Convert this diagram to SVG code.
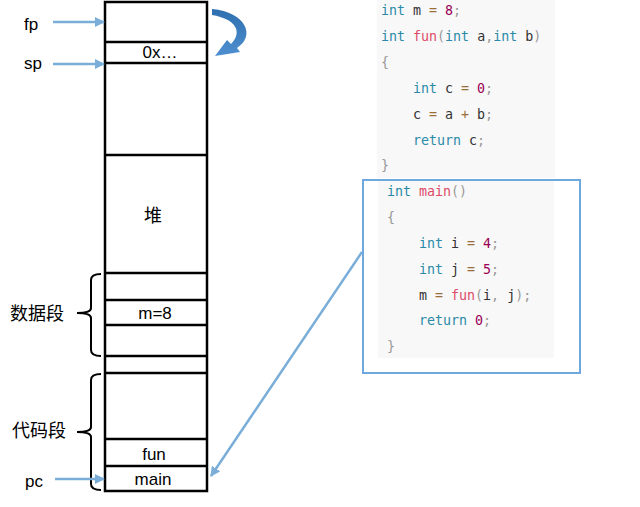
<svg xmlns="http://www.w3.org/2000/svg" width="640" height="507" viewBox="0 0 640 507">
<defs>
<style>
.frame{fill:none;stroke:#000;stroke-width:2.5}
.sep{stroke:#000;stroke-width:2.5}
.brace{fill:none;stroke:#000;stroke-width:2}
.ptr{stroke:#7aaed8;stroke-width:2.5;fill:none}
.lbl{font-family:"Liberation Sans",Arial,sans-serif;font-size:17px;fill:#000}
.cjk{font-family:"Liberation Sans","Noto Sans CJK SC",sans-serif;font-size:18px;fill:#000}
.code{font-family:"DejaVu Sans Mono","Liberation Mono",monospace;font-size:13.3px;fill:#333}
.kw{fill:#2a8aa8}.fn{fill:#dd4a68}.num{fill:#990055}.pn{fill:#999}.op{fill:#9a6e3a}
</style>
<marker id="ah" viewBox="0 0 10 10" refX="9" refY="5" markerWidth="4" markerHeight="4" orient="auto">
<path d="M0,0 L10,5 L0,10 Z" fill="#7aaed8"/>
</marker>
<linearGradient id="cg" x1="0" y1="0" x2="0" y2="1">
<stop offset="0" stop-color="#2e6fb0"/>
<stop offset="1" stop-color="#4f8fd0"/>
</linearGradient>
</defs>

<g id="code-bg">
<rect x="377" y="0" width="178" height="178" fill="#f8f8f8"/>
<rect x="378" y="181" width="176" height="177" fill="#f8f8f8"/>
</g>

<g id="stack">
<rect class="frame" x="105" y="2" width="102" height="489"/>
<line class="sep" x1="105" y1="42" x2="207" y2="42"/>
<line class="sep" x1="105" y1="63" x2="207" y2="63"/>
<line class="sep" x1="105" y1="155" x2="207" y2="155"/>
<line class="sep" x1="105" y1="273" x2="207" y2="273"/>
<line class="sep" x1="105" y1="300" x2="207" y2="300"/>
<line class="sep" x1="105" y1="325" x2="207" y2="325"/>
<line class="sep" x1="105" y1="356" x2="207" y2="356"/>
<line class="sep" x1="105" y1="373" x2="207" y2="373"/>
<line class="sep" x1="105" y1="439" x2="207" y2="439"/>
<line class="sep" x1="105" y1="466" x2="207" y2="466"/>
<text class="lbl" x="160" y="58" text-anchor="middle">0x…</text>
<text class="cjk" x="153" y="222" text-anchor="middle">堆</text>
<text class="lbl" x="155" y="319" text-anchor="middle">m=8</text>
<text class="lbl" x="154" y="460" text-anchor="middle">fun</text>
<text class="lbl" x="153" y="485" text-anchor="middle">main</text>
</g>

<g id="labels">
<text class="lbl" x="24" y="30">fp</text>
<text class="lbl" x="24" y="69">sp</text>
<text class="lbl" x="25" y="487">pc</text>
<text class="cjk" x="10" y="320">数据段</text>
<text class="cjk" x="12" y="437">代码段</text>
</g>

<g id="braces">
<path class="brace" d="M101,274 Q91,274 91,280 L91,308 Q91,313 77,313 Q91,313 91,318 L91,350 Q91,356 101,356"/>
<path class="brace" d="M101,374 Q91,374 91,380 L91,427 Q91,432 77,432 Q91,432 91,437 L91,484 Q91,490 101,490"/>
</g>

<g id="connectors">
<line class="ptr" x1="53" y1="22" x2="104" y2="22" marker-end="url(#ah)"/>
<line class="ptr" x1="53" y1="64" x2="104" y2="64" marker-end="url(#ah)"/>
<line class="ptr" x1="55" y1="479" x2="104" y2="479" marker-end="url(#ah)"/>
<line class="ptr" x1="362" y1="252" x2="211" y2="476" marker-end="url(#ah)"/>
<path d="M212,9 C246,12 256,36 237,48 L240,52 L215,56 L227,40 L231,44 C243,32 236,19 212,15 Z" fill="url(#cg)"/>
</g>

<g id="code-box">
<rect x="363" y="180" width="217" height="193" fill="none" stroke="#6fa8dc" stroke-width="2"/>
</g>

<g id="code">
<text class="code" x="381" y="15"><tspan class="kw">int</tspan> m <tspan class="op">=</tspan> <tspan class="num">8</tspan><tspan class="pn">;</tspan></text>
<text class="code" x="381" y="41"><tspan class="kw">int</tspan> <tspan class="fn">fun</tspan><tspan class="pn">(</tspan><tspan class="kw">int</tspan> a<tspan class="pn">,</tspan><tspan class="kw">int</tspan> b<tspan class="pn">)</tspan></text>
<text class="code pn" x="381" y="67">{</text>
<text class="code" x="413" y="93"><tspan class="kw">int</tspan> c <tspan class="op">=</tspan> <tspan class="num">0</tspan><tspan class="pn">;</tspan></text>
<text class="code" x="413" y="119">c <tspan class="op">=</tspan> a <tspan class="op">+</tspan> b<tspan class="pn">;</tspan></text>
<text class="code" x="413" y="145"><tspan class="kw">return</tspan> c<tspan class="pn">;</tspan></text>
<text class="code pn" x="381" y="170">}</text>
<text class="code" x="387" y="196"><tspan class="kw">int</tspan> <tspan class="fn">main</tspan><tspan class="pn">()</tspan></text>
<text class="code pn" x="387" y="222">{</text>
<text class="code" x="419" y="248"><tspan class="kw">int</tspan> i <tspan class="op">=</tspan> <tspan class="num">4</tspan><tspan class="pn">;</tspan></text>
<text class="code" x="419" y="274"><tspan class="kw">int</tspan> j <tspan class="op">=</tspan> <tspan class="num">5</tspan><tspan class="pn">;</tspan></text>
<text class="code" x="419" y="300">m <tspan class="op">=</tspan> <tspan class="fn">fun</tspan><tspan class="pn">(</tspan>i<tspan class="pn">,</tspan> j<tspan class="pn">);</tspan></text>
<text class="code" x="419" y="325"><tspan class="kw">return</tspan> <tspan class="num">0</tspan><tspan class="pn">;</tspan></text>
<text class="code pn" x="387" y="351">}</text>
</g>
</svg>
